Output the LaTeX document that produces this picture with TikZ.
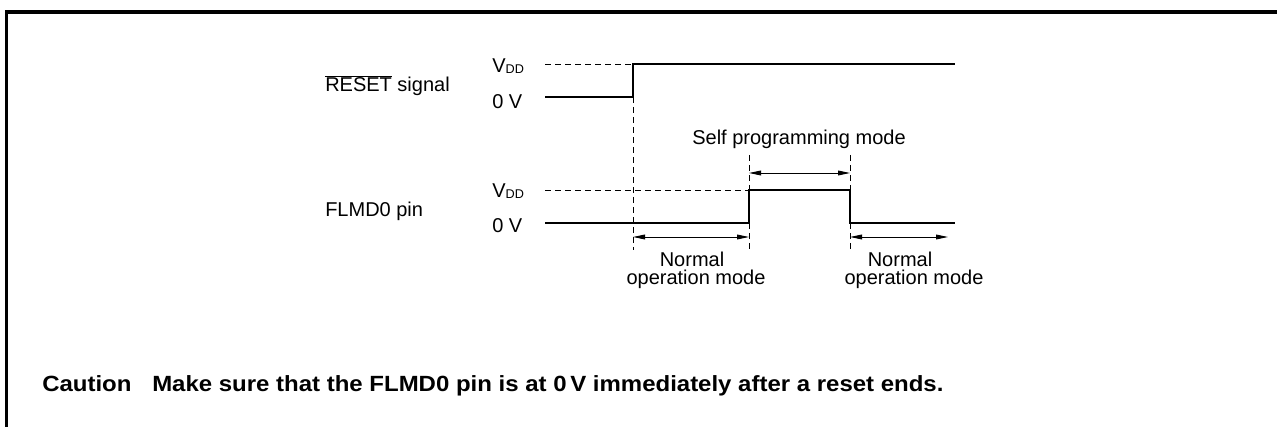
\documentclass[tikz,border=0pt]{standalone}
\usepackage{fontspec}
\setmainfont{Liberation Sans}
\newfontfamily\cautionfont[FakeStretch=1.09]{Liberation Sans}
\usetikzlibrary{arrows.meta}
\newcommand{\vdd}{V\raisebox{-0.05ex}{\fontsize{9.5}{11}\selectfont DD}}
\begin{document}
\begin{tikzpicture}[x=0.75pt,y=-0.75pt,
  sig/.style={line width=2.2pt},
  frm/.style={line width=2.3pt},
  dsh/.style={line width=0.7pt,dash pattern=on 4.5pt off 3pt},
  dim/.style={line width=0.7pt,{Triangle[length=9pt,width=3.6pt]}-{Triangle[length=9pt,width=3.6pt]}},
  lbl/.style={font=\fontsize{15}{18}\selectfont,inner sep=0pt,anchor=base west},
  clbl/.style={font=\fontsize{15}{18}\selectfont,inner sep=0pt,anchor=base},
  bld/.style={font=\cautionfont\fontsize{16.5}{20}\selectfont\bfseries,inner sep=0pt,anchor=base west},
]
\useasboundingbox (0,0) rectangle (1277,427);
\clip (0,0) rectangle (1277,427);
% frame
\coordinate (fb) at (6.5,440);
\coordinate (ft) at (1290,12);
\draw[frm] (fb) |- (ft);

% labels
\node[lbl] (rst) at (325,92) {$\overline{\hbox{RESET}}$ signal};
\node[lbl] (rv) at (492,73) {\vdd};
\node[lbl] (r0) at (492,109) {0 V};
\node[lbl] (fl) at (325,217) {FLMD0 pin};
\node[lbl] (fv) at (492,198) {\vdd};
\node[lbl] (f0) at (492,233) {0 V};
\node[clbl] (spm) at (799,145) {Self programming mode};
\node[clbl] (n1a) at (692,267) {Normal};
\node[clbl] (n1b) at (696,285) {operation mode};
\node[clbl] (n2a) at (900,267) {Normal};
\node[clbl] (n2b) at (914,285) {operation mode};
\node[bld] (cau) at (42,392) {Caution};
\node[bld] (msg) at (152,392) {Make sure that the FLMD0 pin is at 0\,V immediately after a reset ends.};

% RESET waveform
\coordinate (rA) at (545,97);
\coordinate (rB) at (633,97);
\coordinate (rC) at (633,64);
\coordinate (rD) at (955,64);
\coordinate (rE) at (545,64);
\draw[dsh] (rE) -- (rC);
\draw[sig] (rA) -- (rB) -- (rC) -- (rD);
\coordinate (rv1) at (633,250);
\draw[dsh] (rB) -- (rv1);

% FLMD0 waveform
\coordinate (fA) at (545,223);
\coordinate (fB) at (749,223);
\coordinate (fC) at (749,190);
\coordinate (fD) at (850,190);
\coordinate (fE) at (850,223);
\coordinate (fF) at (955,223);
\coordinate (fG) at (545,190);
\draw[dsh] (fG) -- (fC);
\draw[sig] (fA) -- (fB) -- (fC) -- (fD) -- (fE) -- (fF);
\coordinate (t1) at (749,155);
\coordinate (t2) at (850,155);
\coordinate (b1) at (749,249);
\coordinate (b2) at (850,249);
\draw[dsh] (t1) -- (fC);
\draw[dsh] (t2) -- (fD);
\draw[dsh] (fB) -- (b1);
\draw[dsh] (fE) -- (b2);

% dimension arrows
\coordinate (s1) at (749,173);
\coordinate (s2) at (850,173);
\draw[dim] (s1) -- (s2);
\coordinate (a1) at (633,237);
\coordinate (a2) at (749,237);
\draw[dim] (a1) -- (a2);
\coordinate (a3) at (850,237);
\coordinate (a4) at (948,237);
\draw[dim] (a3) -- (a4);
\end{tikzpicture}
\end{document}
